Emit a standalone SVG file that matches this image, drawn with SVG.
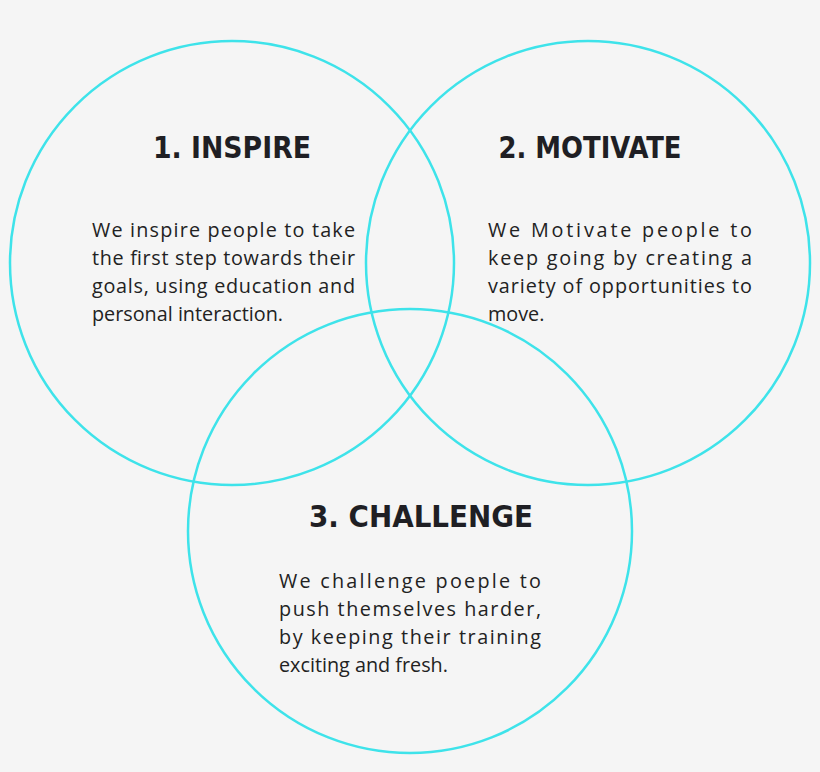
<svg xmlns="http://www.w3.org/2000/svg" width="820" height="772" viewBox="0 0 820 772">
<style>
.c{fill:none;stroke:#3ee3ea;stroke-width:2.5}
.t{font-family:"DejaVu Sans Condensed","DejaVu Sans",sans-serif;font-weight:bold;font-size:31px;fill:#1f1f24;text-anchor:middle}
.b{font-family:"Open Sans","Noto Sans",sans-serif;font-size:19.8px;fill:#222}
</style>
<rect width="820" height="772" fill="#f5f5f5"/>
<g id="connectors"></g>
<g id="inspire">
<circle class="c" cx="232" cy="263" r="222"/>
<text class="t" x="232" y="158" textLength="158" lengthAdjust="spacingAndGlyphs">1. INSPIRE</text>
<text class="b"><tspan x="92" y="237" textLength="263" lengthAdjust="spacing">We inspire people to take</tspan><tspan x="92" y="265" textLength="263" lengthAdjust="spacing">the first step towards their</tspan><tspan x="92" y="293" textLength="263" lengthAdjust="spacing">goals, using education and</tspan><tspan x="92" y="321">personal interaction.</tspan></text>
</g>
<g id="motivate">
<circle class="c" cx="588" cy="263" r="222"/>
<text class="t" x="590" y="158" textLength="183" lengthAdjust="spacingAndGlyphs">2. MOTIVATE</text>
<text class="b"><tspan x="488" y="237" textLength="264" lengthAdjust="spacing">We Motivate people to</tspan><tspan x="488" y="265" textLength="264" lengthAdjust="spacing">keep going by creating a</tspan><tspan x="488" y="293" textLength="264" lengthAdjust="spacing">variety of opportunities to</tspan><tspan x="488" y="321">move.</tspan></text>
</g>
<g id="challenge">
<circle class="c" cx="410" cy="531" r="222"/>
<text class="t" x="421" y="527" textLength="224" lengthAdjust="spacingAndGlyphs">3. CHALLENGE</text>
<text class="b"><tspan x="279" y="588" textLength="262" lengthAdjust="spacing">We challenge poeple to</tspan><tspan x="279" y="616" textLength="262" lengthAdjust="spacing">push themselves harder,</tspan><tspan x="279" y="644" textLength="262" lengthAdjust="spacing">by keeping their training</tspan><tspan x="279" y="672">exciting and fresh.</tspan></text>
</g>
</svg>
